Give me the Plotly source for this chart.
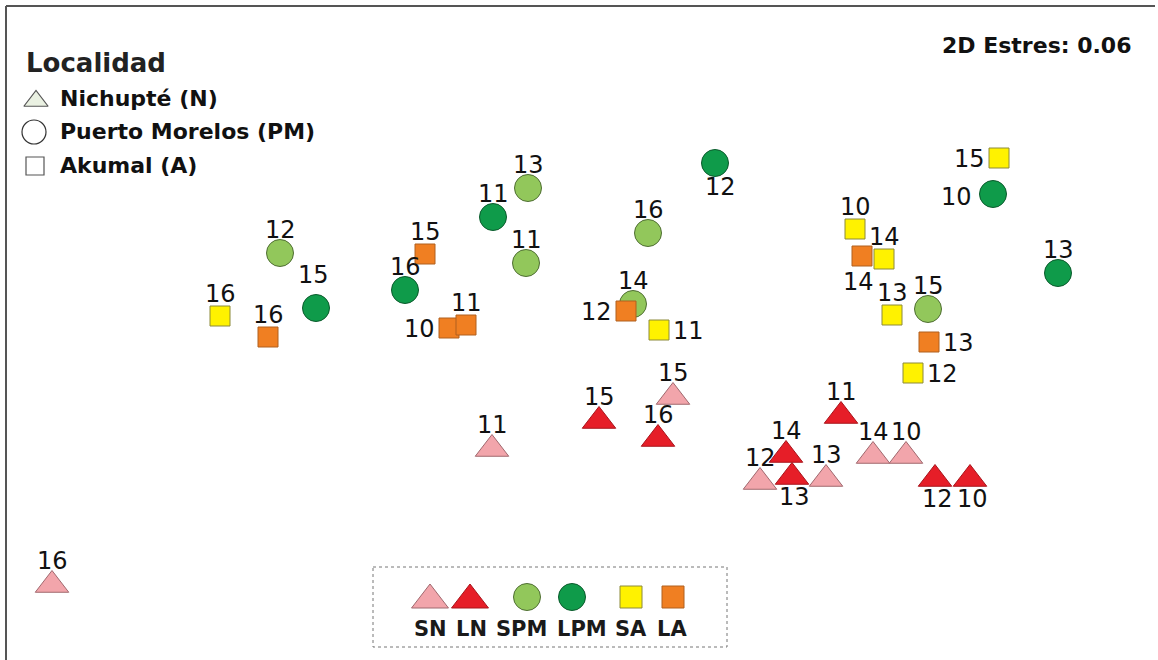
import plotly.graph_objects as go

W, H = 1158, 660

# ---- MDS ordination (in display units) ----
sn_lab = ["16", "11", "15", "12", "13", "14", "10"]
sn_x = [52, 492, 673, 760, 826, 873, 906]
sn_y = [585, 449, 397, 482, 479, 456, 456]
sn_pos = ["t", "t", "t", "t", "t", "t", "t"]

ln_lab = ["15", "16", "11", "14", "13", "12", "10"]
ln_x = [599, 658, 841, 786, 792, 935, 970]
ln_y = [421, 439, 416, 455, 477, 479, 479]
ln_pos = ["t", "t", "t", "t", "b", "b", "b"]

spm_lab = ["12", "13", "11", "16", "14", "15"]
spm_x = [280, 528, 526, 648, 633, 928]
spm_y = [253, 188, 263, 233, 304, 309]
spm_pos = ["t", "t", "t", "t", "t", "t"]

lpm_lab = ["15", "11", "16", "12", "10", "13"]
lpm_x = [316, 493, 405, 715, 993, 1058]
lpm_y = [308, 217, 290, 163, 194, 273]
lpm_pos = ["tt", "t", "t", "b", "l", "t"]

sa_lab = ["16", "11", "15", "10", "14", "13", "12"]
sa_x = [220, 659, 999, 855, 884, 892, 913]
sa_y = [316, 330, 158, 229, 259, 315, 373]
sa_pos = ["t", "r", "l", "t", "t", "t", "r"]

la_lab = ["16", "15", "10", "11", "12", "14", "13"]
la_x = [268, 425, 449, 466, 626, 862, 929]
la_y = [337, 254, 328, 325, 311, 256, 342]
la_pos = ["t", "t", "l", "t", "l", "b", "r"]

groups = [
    # name, x, y, labels, label pos, symbol, fill, outline
    ("SPM", spm_x, spm_y, spm_lab, spm_pos, "circle", "#92C75B", "#4F6E33"),
    ("LPM", lpm_x, lpm_y, lpm_lab, lpm_pos, "circle", "#0F9B4A", "#0B5A2C"),
    ("SN", sn_x, sn_y, sn_lab, sn_pos, "triangle-up", "#F2A5AB", "#A0686E"),
    ("LN", ln_x, ln_y, ln_lab, ln_pos, "triangle-up", "#E61E28", "#A8141B"),
    ("SA", sa_x, sa_y, sa_lab, sa_pos, "square", "#FFF200", "#8C8A3A"),
    ("LA", la_x, la_y, la_lab, la_pos, "square", "#F07F22", "#B0601E"),
]

marker_size = {"circle": 27, "triangle-up": 29, "square": 20}
offsets = {
    "triangle-up": {"t": (0, -24), "b": (2, 20)},
    "circle": {"t": (0, -23), "tt": (-3, -33), "b": (5, 24), "l": (-37, 3)},
    "square": {"t": (0, -22), "l": (-30, 1), "r": (29, 1), "b": (-4, 26)},
}

fig = go.Figure()
annotations = []
for name, xs, ys, labs, poss, sym, fill, edge in groups:
    fig.add_trace(go.Scatter(
        x=xs, y=ys, mode="markers", name=name, showlegend=False,
        marker=dict(symbol=sym, size=marker_size[sym], color=fill,
                    line=dict(color=edge, width=1)),
        hoverinfo="skip",
    ))
    for x, y, t, p in zip(xs, ys, labs, poss):
        dx, dy = offsets[sym][p]
        annotations.append(dict(
            x=x, y=y, xref="x", yref="y", text=t, showarrow=False,
            xshift=dx, yshift=-dy, xanchor="center", yanchor="middle",
            font=dict(family="DejaVu Sans", size=24, color="#111111"),
        ))

# ---- top-left "Localidad" key ----
bold = "DejaVu Sans"
annotations.append(dict(x=24, y=63, xref="x", yref="y", text="<b>Localidad</b>",
                        showarrow=False, xanchor="left", yanchor="middle",
                        font=dict(family=bold, size=26, color="#222222")))
key_items = [("Nichupté (N)", "triangle-up", "#EAF1E2", "#555555", 21, 36, 101),
             ("Puerto Morelos (PM)", "circle", "#FFFFFF", "#333333", 24, 34, 132),
             ("Akumal (A)", "square", "#FFFFFF", "#555555", 18, 35, 166)]
for txt, sym, fill, edge, sz, kx, ky in key_items:
    fig.add_trace(go.Scatter(x=[kx], y=[ky], mode="markers", showlegend=False,
                             hoverinfo="skip",
                             marker=dict(symbol=sym, size=sz, color=fill,
                                         line=dict(color=edge, width=1.2))))
    annotations.append(dict(x=58, y=ky - 1 if sym != "triangle-up" else 98,
                            xref="x", yref="y", text="<b>" + txt + "</b>",
                            showarrow=False, xanchor="left", yanchor="middle",
                            font=dict(family=bold, size=22, color="#111111")))

annotations.append(dict(x=1133, y=45, xref="x", yref="y", text="<b>2D Estres: 0.06</b>",
                        showarrow=False, xanchor="right", yanchor="middle",
                        font=dict(family=bold, size=22, color="#111111")))

# ---- bottom group key ----
key_x = {"SN": 430, "LN": 470, "SPM": 527, "LPM": 572, "SA": 631, "LA": 673}
key_tx = {"SN": 430, "LN": 471, "SPM": 521, "LPM": 582, "SA": 631, "LA": 672}
key_sz = {"circle": 27, "triangle-up": 32, "square": 22}
key_y = {"circle": 597, "triangle-up": 600, "square": 597}
for name, xs, ys, labs, poss, sym, fill, edge in groups:
    fig.add_trace(go.Scatter(x=[key_x[name]], y=[key_y[sym]], mode="markers",
                             showlegend=False, hoverinfo="skip",
                             marker=dict(symbol=sym, size=key_sz[sym], color=fill,
                                         line=dict(color=edge, width=1))))
    annotations.append(dict(x=key_tx[name], y=629, xref="x", yref="y",
                            text="<b>" + name + "</b>", showarrow=False,
                            xanchor="center", yanchor="middle",
                            font=dict(family=bold, size=21, color="#1a1a1a")))

shapes = [
    dict(type="rect", xref="x", yref="y", x0=373, x1=727, y0=567, y1=647,
         line=dict(color="#777777", width=1, dash="dot"), fillcolor="rgba(0,0,0,0)"),
    dict(type="line", xref="paper", yref="paper", x0=6 / W, x1=6 / W, y0=0, y1=1 - 6 / H,
         line=dict(color="#555555", width=2)),
    dict(type="line", xref="paper", yref="paper", x0=6 / W, x1=1155 / W,
         y0=1 - 6 / H, y1=1 - 6 / H, line=dict(color="#555555", width=2)),
]

fig.update_layout(
    width=W, height=H, margin=dict(l=0, r=0, t=0, b=0),
    paper_bgcolor="white", plot_bgcolor="white",
    xaxis=dict(range=[0, W], visible=False, fixedrange=True),
    yaxis=dict(range=[H, 0], visible=False, fixedrange=True),
    annotations=annotations, shapes=shapes,
)

fig.write_html(
    "out.html",
    config={"displayModeBar": False},
    post_script="document.body.style.margin='0';document.body.style.overflow='hidden';",
)
